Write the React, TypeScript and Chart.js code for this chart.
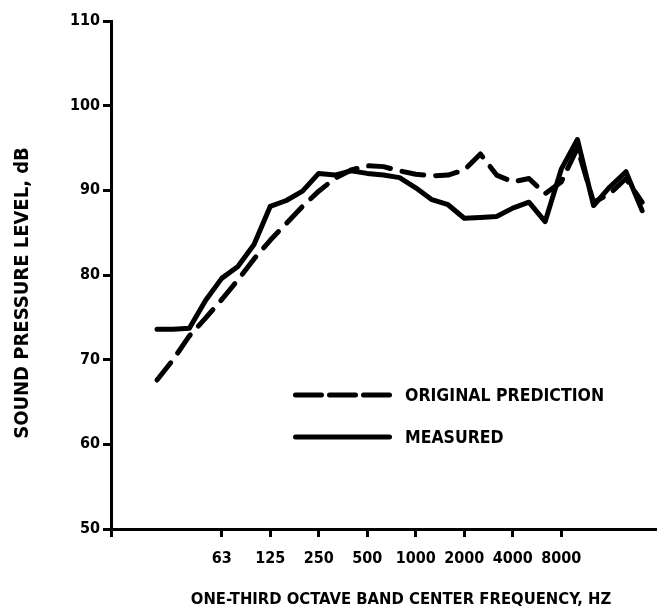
import { useEffect, useRef } from "react";
import { Chart, registerables } from "chart.js";

Chart.register(...registerables);

// One-third octave bands, ANSI band numbers (band 30 = 1000 Hz)
const bands = [
  14, 15, 16, 17, 18, 19, 20, 21, 22, 23, 24, 25, 26, 27, 28, 29,
  30, 31, 32, 33, 34, 35, 36, 37, 38, 39, 40, 41, 42, 43, 44,
];

// Sound pressure level, dB
const measured = [
  73.6, 73.6, 73.7, 77.0, 79.6, 81.0, 83.6, 88.1, 88.8, 89.9, 92.0,
  91.8, 92.3, 92.0, 91.8, 91.5, 90.3, 88.9, 88.3, 86.7, 86.8, 86.9,
  87.9, 88.6, 86.3, 92.5, 96.0, 88.2, 90.4, 92.2, 87.6,
];
const prediction = [
  67.6, 70.0, 72.8, 74.9, 77.1, 79.4, 81.9, 84.1, 86.1, 88.1, 89.9,
  91.4, 92.4, 92.9, 92.8, 92.3, 91.9, 91.7, 91.8, 92.4, 94.3, 91.8,
  91.0, 91.4, 89.6, 91.0, 95.0, 88.6, 89.6, 91.4, 88.6,
];

// Labelled octave bands on the frequency axis
const tickBands = [18, 21, 24, 27, 30, 33, 36, 39];
const tickLabels = ["63", "125", "250", "500", "1000", "2000", "4000", "8000"];
const yTicks = [50, 60, 70, 80, 90, 100, 110];

const seriesNames = ["ORIGINAL PREDICTION", "MEASURED"];
const xTitle = "ONE-THIRD OCTAVE BAND CENTER FREQUENCY, HZ";
const yTitle = "SOUND PRESSURE LEVEL, dB";

const INK = "#000";
const FONT = '"DejaVu Sans Condensed", "Liberation Sans Narrow", "DejaVu Sans", sans-serif';
const PLOT_DASH = [22, 12];
const LEGEND_DASH = [26, 8];

// Axis captions and the in-plot key
const captions = {
  id: "captions",
  afterDraw(chart: any) {
    const ctx: CanvasRenderingContext2D = chart.ctx;
    ctx.save();
    ctx.fillStyle = INK;
    ctx.textBaseline = "middle";

    // vertical axis caption
    ctx.save();
    ctx.font = `bold 20px ${FONT}`;
    ctx.textAlign = "center";
    ctx.translate(23, 293);
    ctx.rotate(-Math.PI / 2);
    ctx.fillText(yTitle, 0, 0);
    ctx.restore();

    // horizontal axis caption
    ctx.font = `bold 16.5px ${FONT}`;
    ctx.textAlign = "center";
    ctx.fillText(xTitle, 401, 600);

    // key
    const rows = [
      { ds: chart.data.datasets[1], y: 395, dash: LEGEND_DASH },
      { ds: chart.data.datasets[0], y: 437, dash: [] as number[] },
    ];
    ctx.font = `bold 17.5px ${FONT}`;
    ctx.textAlign = "left";
    rows.forEach((r) => {
      ctx.save();
      ctx.strokeStyle = r.ds.borderColor;
      ctx.lineWidth = r.ds.borderWidth;
      ctx.lineCap = "round";
      ctx.setLineDash(r.dash);
      ctx.beginPath();
      ctx.moveTo(295.5, r.y);
      ctx.lineTo(389.5, r.y);
      ctx.stroke();
      ctx.restore();
      ctx.fillText(r.ds.label, 405, r.y + 1);
    });
    ctx.restore();
  },
};

export default function App() {
  const canvasRef = useRef<HTMLCanvasElement | null>(null);

  useEffect(() => {
    const canvas = canvasRef.current;
    if (!canvas) return;
    const tickFont = { family: FONT, size: 16, weight: "bold" as const };

    const chart = new Chart(canvas, {
      type: "line",
      data: {
        datasets: [
          {
            label: seriesNames[1],
            data: bands.map((b, i) => ({ x: b, y: measured[i] })),
            borderColor: INK,
            borderWidth: 5,
            borderJoinStyle: "round",
            borderCapStyle: "round",
            pointRadius: 0,
            tension: 0,
            fill: false,
          },
          {
            label: seriesNames[0],
            data: bands.map((b, i) => ({ x: b, y: prediction[i] })),
            borderColor: INK,
            borderWidth: 5,
            borderDash: PLOT_DASH,
            borderJoinStyle: "round",
            borderCapStyle: "round",
            pointRadius: 0,
            tension: 0,
            fill: false,
          },
        ],
      },
      options: {
        animation: false,
        responsive: true,
        maintainAspectRatio: false,
        layout: { padding: { top: 21, right: 0, bottom: 0, left: 0 } },
        plugins: {
          legend: { display: false },
          tooltip: { enabled: false },
        },
        scales: {
          x: {
            type: "linear",
            min: 11.155,
            max: 44.92,
            afterBuildTicks: (s: any) => {
              s.ticks = [{ value: s.min }, ...tickBands.map((v) => ({ value: v }))];
            },
            afterFit: (s: any) => {
              s.height = 83;
            },
            ticks: {
              autoSkip: false,
              maxRotation: 0,
              padding: 12,
              color: INK,
              font: tickFont,
              callback: (v: any) => {
                const i = tickBands.indexOf(Number(v));
                return i < 0 ? "" : tickLabels[i];
              },
            },
            grid: {
              drawOnChartArea: false,
              drawTicks: true,
              tickLength: 8,
              lineWidth: 3,
              color: INK,
            },
            border: { display: true, width: 3, color: INK },
          },
          y: {
            type: "linear",
            min: 50,
            max: 110,
            afterBuildTicks: (s: any) => {
              s.ticks = yTicks.map((v) => ({ value: v }));
            },
            afterFit: (s: any) => {
              s.width = 111;
            },
            ticks: {
              padding: 3,
              color: INK,
              font: tickFont,
            },
            grid: {
              drawOnChartArea: false,
              drawTicks: true,
              tickLength: 8,
              lineWidth: 3,
              color: INK,
            },
            border: { display: true, width: 3, color: INK },
          },
        },
      },
      plugins: [captions],
    });

    return () => chart.destroy();
  }, []);

  return (
    <div
      style={{
        position: "fixed",
        left: 0,
        top: 0,
        width: 657,
        height: 612,
        background: "#fff",
      }}
    >
      <canvas ref={canvasRef} />
    </div>
  );
}
